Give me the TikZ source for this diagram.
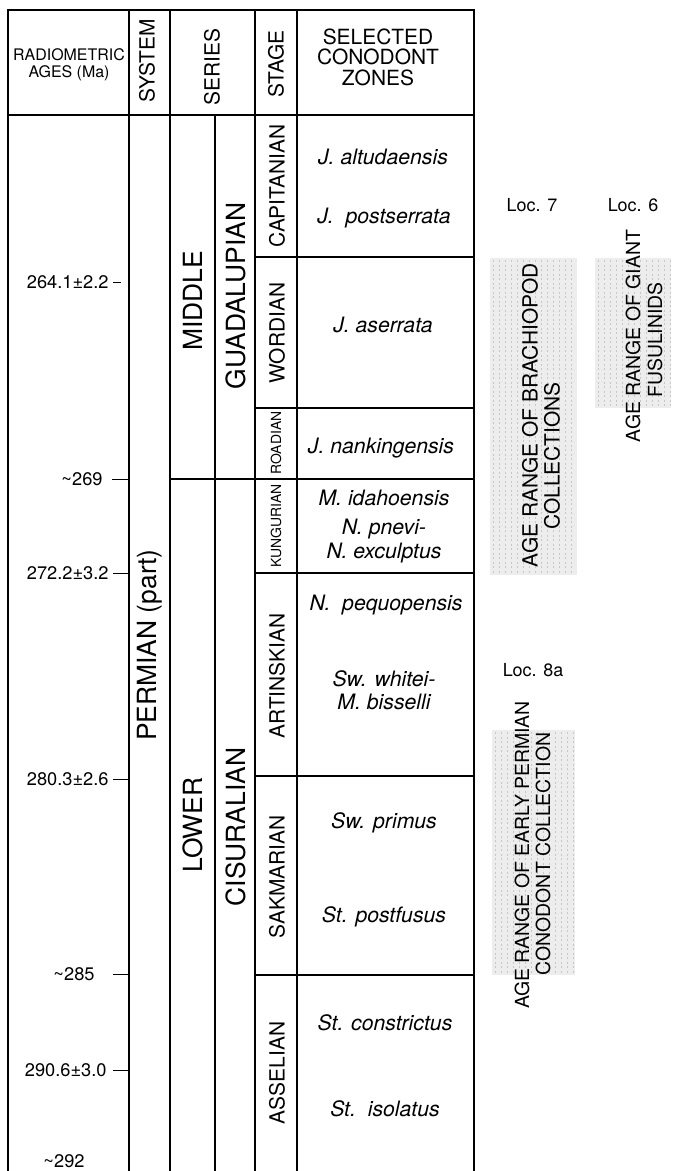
\documentclass[tikz,border=0pt]{standalone}
\usepackage{fontspec}
\setmainfont{TeX Gyre Heros}
\usetikzlibrary{calc}
\tikzset{
  gridline/.style={line width=1.3bp},
  tickline/.style={line width=0.9bp},
  headlabel/.style={inner sep=0pt,align=center,font=\fontsize{21}{20.5}\selectfont},
  serieslabel/.style={inner sep=0pt,rotate=90,font=\fontsize{26.5}{28}\selectfont},
  stagelabel/.style={inner sep=0pt,rotate=90,font=\fontsize{21}{22}\selectfont},
  smallstagelabel/.style={inner sep=0pt,rotate=90,font=\fontsize{14}{15}\selectfont},
  zonelabel/.style={inner sep=0pt,align=center,font=\fontsize{21.3}{23.5}\selectfont\itshape},
  agelabel/.style={inner sep=0pt,anchor=east,font=\fontsize{18.3}{19}\selectfont},
  loclabel/.style={inner sep=0pt,font=\fontsize{18}{19}\selectfont},
  rangelabel/.style={inner sep=0pt,rotate=90,font=\fontsize{21}{22}\selectfont},
  stipple/.style={fill=black!7,draw=none},
  stipplestroke/.style={black!22,line width=0.6bp,dash pattern=on 2bp off 2.5bp}
}

\begin{document}
\begin{tikzpicture}[x=1bp,y=-1bp]
    \useasboundingbox (0,0) rectangle (674,1171);

    \coordinate (TL) at (8,10);
    \coordinate (TR) at (474,10);
    \coordinate (BL) at (8,1171);
    \coordinate (BR) at (474,1171);

    % shaded age ranges
    \fill[stipple] (490,258) rectangle (577,575);
    \fill[stipple] (595,258) rectangle (671,408);
    \fill[stipple] (492,730) rectangle (575,975);
    \foreach \x in {493,499,...,575}
        \draw[stipplestroke] (\x,260) -- (\x,574);
    \foreach \x in {598,604,...,670}
        \draw[stipplestroke] (\x,260) -- (\x,407);
    \foreach \x in {495,501,...,575}
        \draw[stipplestroke] (\x,732) -- (\x,974);

    % table frame and columns
    \draw[gridline] (BL) -- (TL) -- (TR) -- (BR);
    \foreach \x in {129,170,255,297}
        \draw[gridline] (\x,10) -- (\x,1171);
    \draw[gridline] (215,115) -- (215,1171);
    \draw[gridline] (8,115) -- (474,115);
    \draw[gridline] (170,479) -- (474,479);
    \foreach \y in {257,408,573,776,975}
        \draw[gridline] (255,\y) -- (474,\y);

    % header
    \node[headlabel,font=\fontsize{16}{17}\selectfont] (ages) at (69,65) {RADIOMETRIC\\AGES (Ma)};
    \node[headlabel,rotate=90] (system) at (147,61) {SYSTEM};
    \node[headlabel,rotate=90] (seriesh) at (212,67) {SERIES};
    \node[headlabel,rotate=90] (stageh) at (276,64) {STAGE};
    \node[headlabel] (zonesh) at (378,57) {SELECTED\\CONODONT\\ZONES};

    % radiometric ages
    \draw[tickline] (113,282) -- (121,282) node[agelabel,pos=0,xshift=-4bp] (a1) {264.1±2.2};
    \draw[tickline] (112,479) -- (128,479) node[agelabel,pos=0,xshift=-9bp] (a2) {\textasciitilde 269};
    \draw[tickline] (113,573) -- (128,573) node[agelabel,pos=0,xshift=-4bp] (a3) {272.2±3.2};
    \draw[tickline] (113,779) -- (128,779) node[agelabel,pos=0,xshift=-4bp] (a4) {280.3±2.6};
    \draw[tickline] (113,974) -- (128,974) node[agelabel,pos=0,xshift=-18bp] (a5) {\textasciitilde 285};
    \draw[tickline] (113,1070) -- (128,1070) node[agelabel,pos=0,xshift=-6bp] (a6) {290.6±3.0};
    \node[agelabel,anchor=center] (a7) at (64,1161) {\textasciitilde 292};

    % system and series
    \node[serieslabel] (permian) at (150,645) {PERMIAN (part)};
    \node[serieslabel] (middle) at (193,301) {MIDDLE};
    \node[serieslabel] (guadalupian) at (236,296) {GUADALUPIAN};
    \node[serieslabel] (lower) at (193,825) {LOWER};
    \node[serieslabel] (cisuralian) at (236,827) {CISURALIAN};

    % stages
    \node[stagelabel] (capitanian) at (277,186) {CAPITANIAN};
    \node[stagelabel] (wordian) at (277,333) {WORDIAN};
    \node[smallstagelabel] (roadian) at (276,443) {ROADIAN};
    \node[smallstagelabel] (kungurian) at (276,526) {KUNGURIAN};
    \node[stagelabel] (artinskian) at (277,676) {ARTINSKIAN};
    \node[stagelabel] (sakmarian) at (277,877) {SAKMARIAN};
    \node[stagelabel] (asselian) at (277,1073) {ASSELIAN};

    % conodont zones
    \node[zonelabel] (z1) at (383,157) {J. altudaensis};
    \node[zonelabel] (z2) at (384,218) {J.\ \ postserrata};
    \node[zonelabel] (z3) at (383,325) {J. aserrata};
    \node[zonelabel] (z4) at (381,448) {J. nankingensis};
    \node[zonelabel] (z5) at (384,498) {M. idahoensis};
    \node[zonelabel] (z6) at (384,541) {N. pnevi-\\N. exculptus};
    \node[zonelabel] (z7) at (386,605) {N.\ \ pequopensis};
    \node[zonelabel] (z8) at (384,690) {Sw. whitei-\\M. bisselli};
    \node[zonelabel] (z9) at (384,823) {Sw. primus};
    \node[zonelabel] (z10) at (384,917) {St. postfusus};
    \node[zonelabel] (z11) at (385,1023) {St. constrictus};
    \node[zonelabel] (z12) at (385,1109) {St.\ \ isolatus};

    % localities
    \node[loclabel] (loc7) at (532,205) {Loc. 7};
    \node[loclabel] (loc6) at (633,205) {Loc. 6};
    \node[loclabel] (loc8a) at (533,670) {Loc. 8a};
    \node[rangelabel] (brach) at (530,415) {AGE RANGE OF BRACHIOPOD};
    \node[rangelabel] (brach2) at (552,456) {COLLECTIONS};
    \node[rangelabel,font=\fontsize{19.5}{20}\selectfont] (giant) at (633,336) {AGE RANGE OF GIANT};
    \node[rangelabel,font=\fontsize{19.5}{20}\selectfont] (giant2) at (655,340) {FUSULINIDS};
    \node[rangelabel,font=\fontsize{19.5}{20}\selectfont] (early) at (522,855) {AGE RANGE OF EARLY PERMIAN};
    \node[rangelabel,font=\fontsize{19.5}{20}\selectfont] (early2) at (543,854) {CONODONT COLLECTION};
\end{tikzpicture}
\end{document}
